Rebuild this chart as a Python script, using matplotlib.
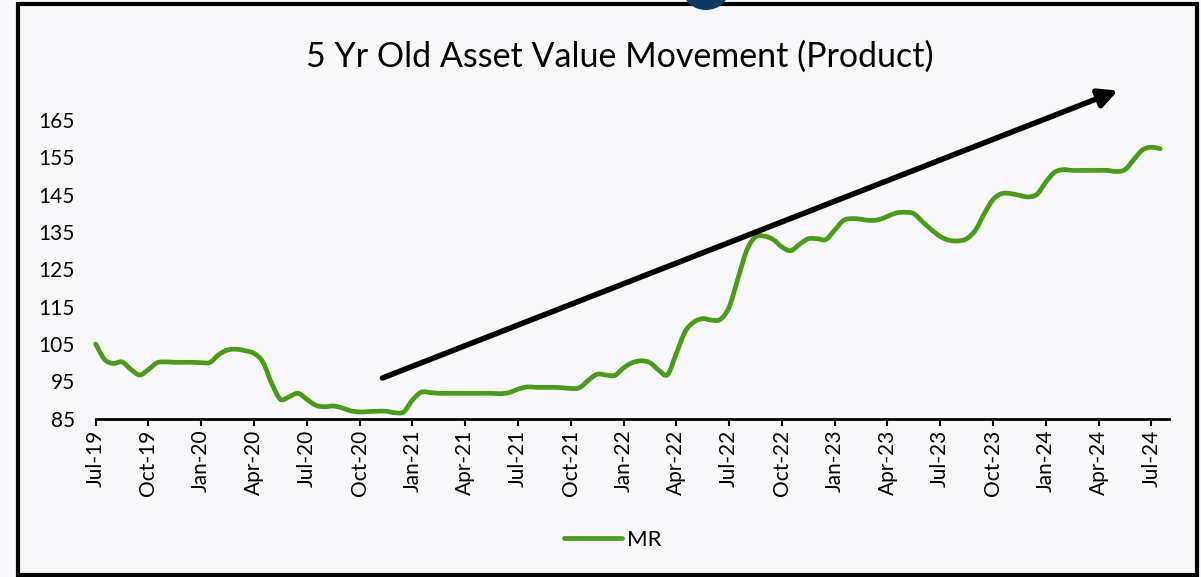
import numpy as np
import matplotlib
matplotlib.use("Agg")
import matplotlib.pyplot as plt
from matplotlib.patches import Rectangle, Ellipse, PathPatch
from matplotlib.path import Path
from matplotlib.lines import Line2D

plt.rcParams['font.family'] = ['Lato', 'DejaVu Sans']

# ---- data (half-month readings starting Jul-19) ----
title = "5 Yr Old Asset Value Movement (Product)"
series_name = "MR"
step_months = 0.5
mr_values = [
    105.0, 100.9, 99.8, 100.2, 98.2, 96.7, 98.2, 100.0, 100.2, 100.1, 100.1, 100.1,
    100.0, 100.1, 102.2, 103.4, 103.6, 103.2, 102.5, 100.2, 94.5, 90.2, 90.9, 91.8,
    90.2, 88.6, 88.2, 88.4, 87.9, 87.1, 86.8, 86.9, 87.0, 87.0, 86.6, 86.8,
    90.0, 92.1, 92.0, 91.8, 91.8, 91.8, 91.8, 91.8, 91.8, 91.8, 91.7, 92.0,
    92.9, 93.5, 93.4, 93.4, 93.4, 93.3, 93.1, 93.3, 95.3, 96.9, 96.7, 96.6,
    98.6, 100.0, 100.5, 100.0, 98.0, 96.8, 102.5, 108.3, 110.9, 111.8, 111.4, 111.6,
    114.9, 122.5, 130.1, 133.7, 133.9, 133.0, 131.0, 130.0, 131.7, 133.2, 133.2, 133.0,
    135.5, 138.1, 138.6, 138.4, 138.1, 138.3, 139.2, 140.1, 140.3, 139.9, 137.7, 135.6,
    133.8, 132.8, 132.6, 133.2, 135.5, 139.9, 143.7, 145.3, 145.3, 144.8, 144.4, 145.1,
    148.4, 151.0, 151.7, 151.5, 151.5, 151.5, 151.5, 151.5, 151.2, 151.7, 154.4, 157.0,
    157.7, 157.3,
]
tick_labels = ["Jul-19", "Oct-19", "Jan-20", "Apr-20", "Jul-20", "Oct-20", "Jan-21",
               "Apr-21", "Jul-21", "Oct-21", "Jan-22", "Apr-22", "Jul-22", "Oct-22",
               "Jan-23", "Apr-23", "Jul-23", "Oct-23", "Jan-24", "Apr-24", "Jul-24"]
y_ticks = [85, 95, 105, 115, 125, 135, 145, 155, 165]
# trend arrow (annotation) in month-index / value coordinates
arrow_start = (16.3, 95.9)
arrow_end = (58.1, 172.9)

# ---- figure ----
W, H = 1201, 577
bg = '#f9f9fb'
green = '#4b9b1a'
line_w = 3.4
fig = plt.figure(figsize=(W / 100, H / 100), dpi=100, facecolor=bg)

left_px, right_px, bottom_px, top_px = 95.7, 1169, 418.7, 120
ax = fig.add_axes([left_px / W, 1 - bottom_px / H,
                   (right_px - left_px) / W, (bottom_px - top_px) / H])
ax.set_facecolor(bg)

# smoothed line (Excel-style Bezier through every reading)
x = np.arange(len(mr_values)) * step_months
pts = np.column_stack([x, np.asarray(mr_values, float)])
ext = np.vstack([pts[0], pts, pts[-1]])
verts = [pts[0]]
codes = [Path.MOVETO]
for i in range(len(pts) - 1):
    p0, p1, p2, p3 = ext[i], ext[i + 1], ext[i + 2], ext[i + 3]
    c1 = p1 + (p2 - p0) / 6.0
    c2 = p2 - (p3 - p1) / 6.0
    verts += [c1, c2, p2]
    codes += [Path.CURVE4] * 3
ax.add_patch(PathPatch(Path(verts, codes), fill=False, ec=green, lw=line_w,
                       capstyle='round', joinstyle='round', clip_on=False))

ax.set_xlim(0, 61)
ax.set_ylim(85, 165)
ax.set_xticks(np.arange(len(tick_labels)) * 3)
ax.set_xticklabels(tick_labels, rotation=90, fontsize=15)
ax.set_yticks(y_ticks)
ax.set_yticklabels([str(v) for v in y_ticks], fontsize=15)

for s in ['top', 'right', 'left']:
    ax.spines[s].set_visible(False)
ax.spines['bottom'].set_linewidth(2)
ax.spines['bottom'].set_color('black')
ax.tick_params(axis='x', direction='out', length=5, width=1.5, pad=3, colors='black')
ax.tick_params(axis='y', length=0, pad=15, colors='black')

ax.annotate('', xy=arrow_end, xytext=arrow_start,
            arrowprops=dict(arrowstyle='-|>', lw=4, color='black',
                            mutation_scale=28, shrinkA=0, shrinkB=0),
            annotation_clip=False)

fig.text(620 / W, 1 - 57 / H, title, ha='center', va='center', fontsize=24.5)

handle = Line2D([], [], color=green, lw=line_w, solid_capstyle='round')
fig.legend([handle], [series_name], loc='center', bbox_to_anchor=(613 / W, 1 - 540 / H),
           frameon=False, fontsize=16, handlelength=2.6, handletextpad=0.25)

# outer border and partial logo at the top
fig.patches.append(Rectangle((18 / W, 2 / H), (1197 - 18) / W, (573 - 2) / H,
                             transform=fig.transFigure, fill=False, lw=3, ec='black'))
fig.patches.append(Ellipse((706 / W, 1 + 10 / H), 46 / W, 40 / H,
                           transform=fig.transFigure, fc='#0d3b66', ec='none'))

fig.savefig('out.png', dpi=100, facecolor=bg)
